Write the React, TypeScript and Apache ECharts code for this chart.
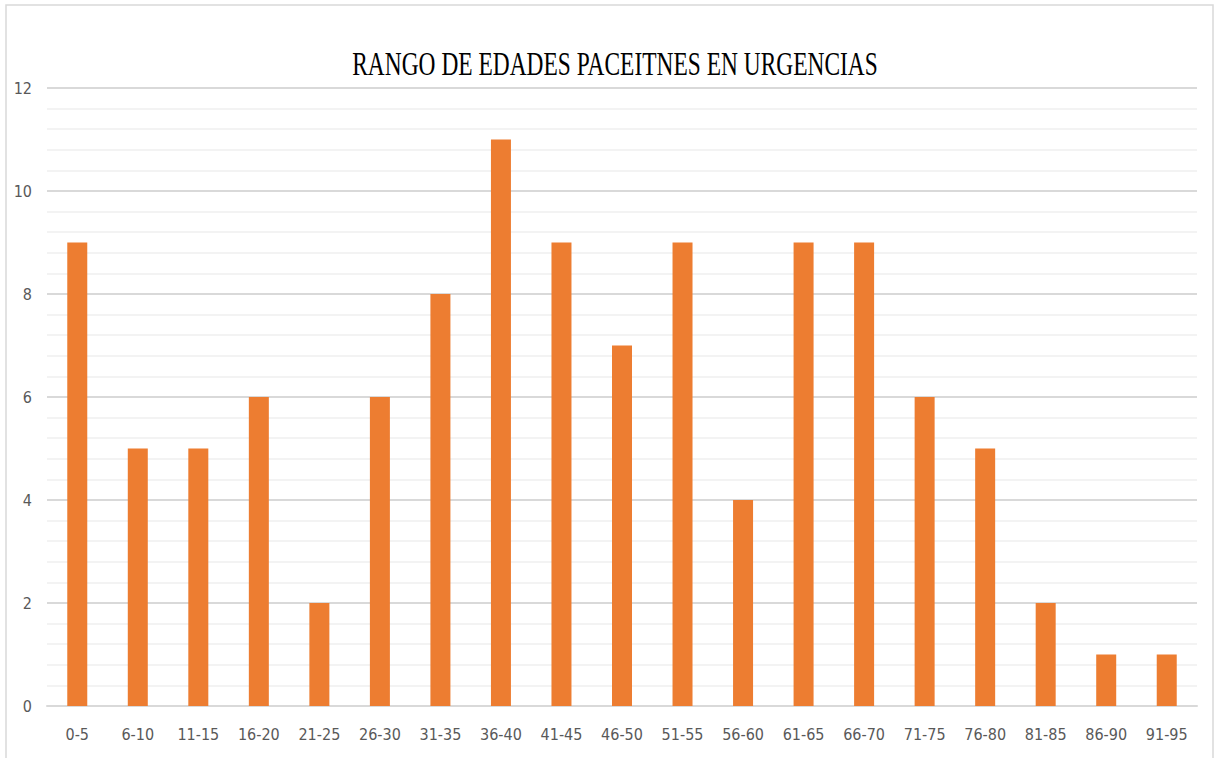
import React, { useEffect, useRef } from "react";
import * as echarts from "echarts";

const chartTitle = "RANGO DE EDADES PACEITNES EN URGENCIAS";
const categories = [
  "0-5", "6-10", "11-15", "16-20", "21-25", "26-30", "31-35", "36-40", "41-45", "46-50",
  "51-55", "56-60", "61-65", "66-70", "71-75", "76-80", "81-85", "86-90", "91-95",
];
const patients = [9, 5, 5, 6, 2, 6, 8, 11, 9, 7, 9, 4, 9, 9, 6, 5, 2, 1, 1];
const yMin = 0;
const yMax = 12;
const yStep = 2;

const labelFont = "'Liberation Sans Narrow', 'DejaVu Sans Condensed', 'Roboto', sans-serif";

export default function App() {
  const ref = useRef<HTMLDivElement>(null);

  useEffect(() => {
    if (!ref.current) return;
    const chart = echarts.init(ref.current, null, { renderer: "svg" });
    chart.setOption({
      animation: false,
      backgroundColor: "#ffffff",
      graphic: [
        {
          type: "rect",
          shape: { x: 6, y: 5, width: 1207, height: 780 },
          style: { fill: "none", stroke: "#d9d9d9", lineWidth: 1.5 },
          silent: true,
        },
        {
          type: "text",
          x: 615,
          y: 64,
          scaleX: 0.71,
          style: {
            text: chartTitle,
            fill: "#000000",
            font: "33px 'Liberation Serif', 'Times New Roman', serif",
            textAlign: "center",
            textVerticalAlign: "middle",
          },
          silent: true,
        },
      ],
      grid: { left: 47, right: 18, top: 88, bottom: 52, containLabel: false },
      xAxis: {
        type: "category",
        data: categories,
        axisLine: { show: true, lineStyle: { color: "#d9d9d9", width: 2 } },
        axisTick: { show: false },
        axisLabel: {
          color: "#595959",
          fontSize: 16,
          fontFamily: labelFont,
          margin: 20,
        },
        splitLine: { show: false },
      },
      yAxis: {
        type: "value",
        min: yMin,
        max: yMax,
        interval: yStep,
        axisLine: { show: false },
        axisTick: { show: false },
        axisLabel: {
          color: "#595959",
          fontSize: 16,
          fontFamily: labelFont,
          margin: 15,
        },
        splitLine: { show: true, lineStyle: { color: "#d9d9d9", width: 2 } },
        minorTick: { show: false, splitNumber: 5 },
        minorSplitLine: { show: true, lineStyle: { color: "#efefef", width: 1.5 } },
      },
      series: [
        {
          type: "bar",
          data: patients,
          barWidth: 20,
          itemStyle: { color: "#ED7D31" },
        },
      ],
    });
    return () => chart.dispose();
  }, []);

  return (
    <div
      ref={ref}
      style={{ position: "absolute", left: 0, top: 0, width: 1215, height: 758 }}
    />
  );
}
